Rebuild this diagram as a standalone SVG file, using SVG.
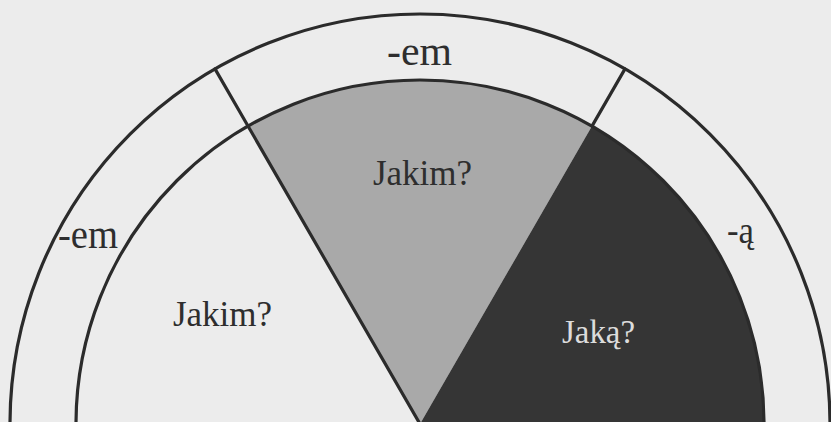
<svg xmlns="http://www.w3.org/2000/svg" width="831" height="422" viewBox="0 0 831 422">
<style>
.line{fill:none;stroke:#2b2b2b;stroke-width:3.2;stroke-linecap:round}
.lbl{font-family:"Liberation Serif","Times New Roman",serif;fill:#2e2e2e}
.light{fill:#dcdcdc}
</style>
<rect width="831" height="422" fill="#ececec"/>
<g id="sector-grey">
<path d="M420,424 L248,126.1 A344,344 0 0 1 592,126.1 Z" fill="#a9a9a9"/>
</g>
<g id="sector-dark">
<path d="M420,424 L592,126.1 A344,344 0 0 1 764,424 Z" fill="#353535"/>
</g>
<g id="connectors">
<path class="line" d="M10,424 A410,410 0 0 1 830,424"/>
<path class="line" d="M76,424 A344,344 0 0 1 764,424"/>
<path class="line" d="M215,68.9 L420,424"/>
<path class="line" d="M625,68.9 L592,126.1"/>
</g>
<g id="label-top-em"><text class="lbl" x="387" y="65" font-size="42" textLength="65" lengthAdjust="spacingAndGlyphs">-em</text></g>
<g id="label-left-em"><text class="lbl" x="58" y="248" font-size="40" textLength="60" lengthAdjust="spacingAndGlyphs">-em</text></g>
<g id="label-right-a"><text class="lbl" x="727" y="243" font-size="38" textLength="27" lengthAdjust="spacingAndGlyphs">-ą</text></g>
<g id="label-top-jakim"><text class="lbl" x="373" y="185" font-size="35" textLength="99" lengthAdjust="spacingAndGlyphs">Jakim?</text></g>
<g id="label-left-jakim"><text class="lbl" x="173" y="326" font-size="35" textLength="99" lengthAdjust="spacingAndGlyphs">Jakim?</text></g>
<g id="label-jaka"><text class="lbl light" x="562" y="343" font-size="33" textLength="73" lengthAdjust="spacingAndGlyphs">Jaką?</text></g>
</svg>
